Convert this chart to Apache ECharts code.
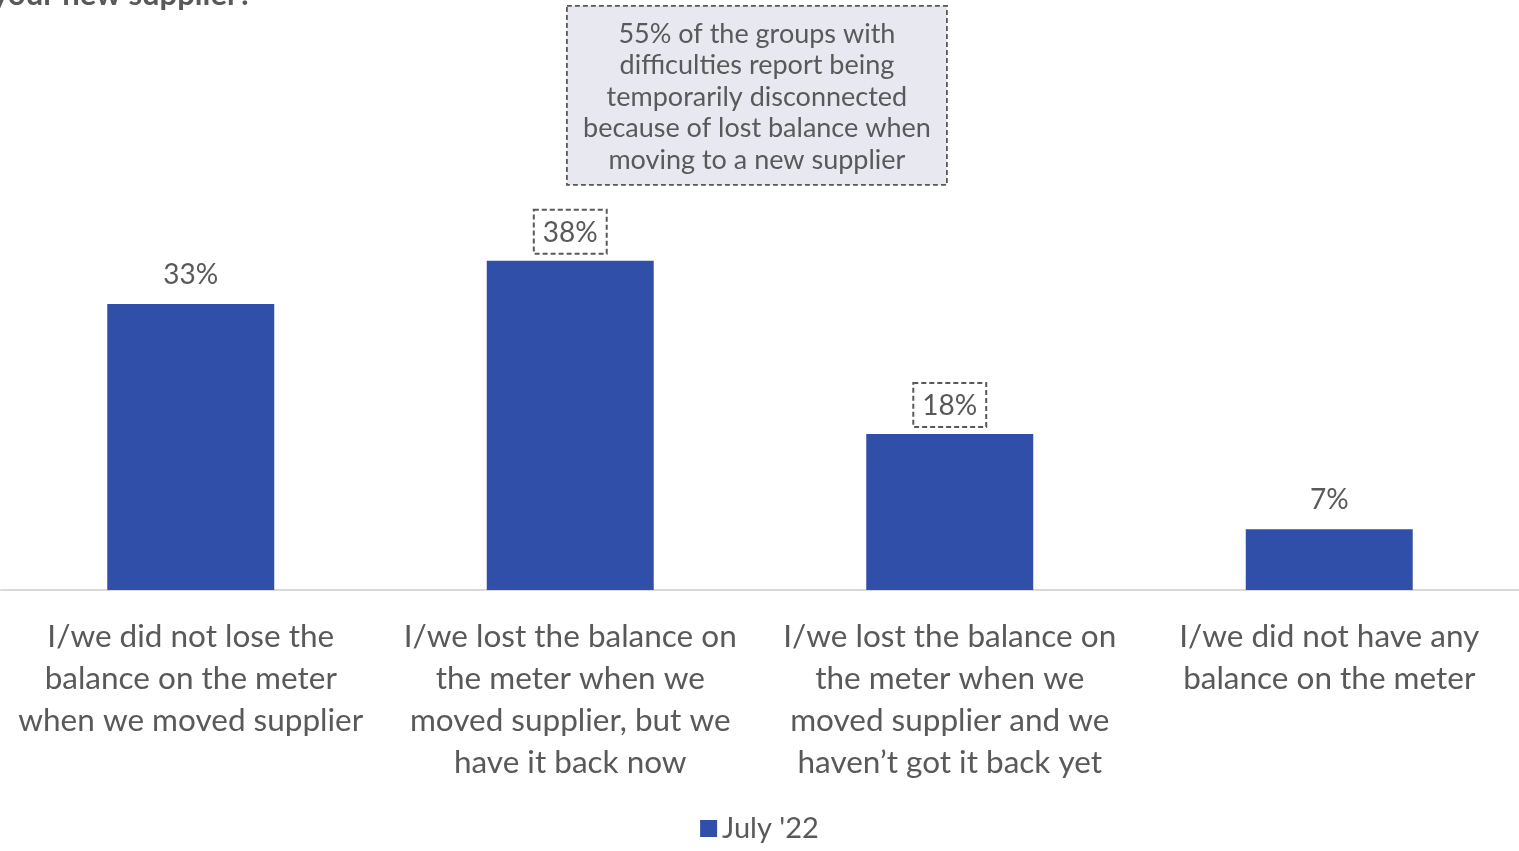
<!DOCTYPE html>
<html>
<head>
<meta charset="utf-8">
<style>
  html, body { margin: 0; padding: 0; background: #ffffff; }
  #chart { width: 1519px; height: 851px; }
</style>
<script src="https://cdn.jsdelivr.net/npm/echarts@6/dist/echarts.min.js"></script>
</head>
<body>
<div id="chart"></div>
<script>
// Survey responses: what happened to the meter balance after switching supplier
const categories = [
  "I/we did not lose the\nbalance on the meter\nwhen we moved supplier",
  "I/we lost the balance on\nthe meter when we\nmoved supplier, but we\nhave it back now",
  "I/we lost the balance on\nthe meter when we\nmoved supplier and we\nhaven\u2019t got it back yet",
  "I/we did not have any\nbalance on the meter"
];
const seriesName = "July '22";
const values = [33, 38, 18, 7];
// Bars whose value labels get a dashed call-out frame
const framed = [false, true, true, false];

const noteText = "55% of the groups with\ndifficulties report being\ntemporarily disconnected\nbecause of lost balance when\nmoving to a new supplier";
const titleText = "your new supplier?";

const FONT = "Lato, 'Noto Sans', sans-serif";
const TEXT = "#595959";
const BAR = "#304FA8";

const chart = echarts.init(document.getElementById('chart'));

const seriesData = values.map((v, i) => {
  const item = { value: v };
  if (framed[i]) {
    item.label = {
      distance: 7,
      borderType: [5, 3],
      borderColor: "#595959",
      borderWidth: 2,
      padding: [9, 9, 7, 9]
    };
  }
  return item;
});

chart.setOption({
  animation: false,
  textStyle: { fontFamily: FONT },
  grid: { left: 1, right: -1, top: 70, height: 520 },
  xAxis: {
    type: 'category',
    data: categories,
    axisLine: { lineStyle: { color: '#d9d9d9', width: 2 } },
    axisTick: { show: false },
    axisLabel: {
      interval: 0,
      color: TEXT,
      fontSize: 31.5,
      lineHeight: 42,
      margin: 26,
      fontFamily: FONT
    }
  },
  yAxis: {
    type: 'value',
    min: 0,
    max: 60,
    show: false,
    splitLine: { show: false }
  },
  legend: {
    bottom: 3,
    left: 'center',
    padding: [5, 0, 5, 8],
    itemWidth: 17,
    itemHeight: 17,
    itemGap: 6,
    icon: 'rect',
    textStyle: { color: TEXT, fontSize: 29, fontFamily: FONT },
    data: [seriesName]
  },
  series: [{
    name: seriesName,
    type: 'bar',
    barWidth: '44%',
    itemStyle: { color: BAR },
    data: seriesData,
    label: {
      show: true,
      position: 'top',
      distance: 15,
      color: TEXT,
      fontSize: 28,
      fontFamily: FONT,
      formatter: p => p.value + '%'
    }
  }],
  graphic: [
    {
      type: 'text',
      left: -8,
      top: -21,
      style: {
        text: titleText,
        fill: TEXT,
        font: "bold 31px " + FONT
      }
    },
    {
      type: 'group',
      left: 566,
      top: 5,
      children: [
        {
          type: 'rect',
          shape: { x: 0, y: 0, width: 380, height: 179 },
          style: {
            fill: '#e8e9f0',
            stroke: '#595959',
            lineWidth: 1.8,
            lineDash: [5, 3]
          }
        },
        {
          type: 'text',
          x: 190,
          y: 91,
          style: {
            text: noteText,
            fill: TEXT,
            font: "27px " + FONT,
            lineHeight: 31.5,
            align: 'center',
            verticalAlign: 'middle'
          }
        }
      ]
    }
  ]
});
</script>
</body>
</html>
